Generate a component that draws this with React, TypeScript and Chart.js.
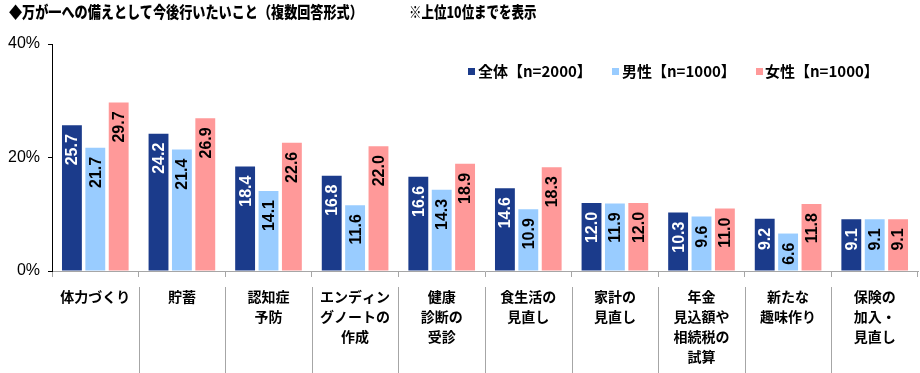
import React, { useEffect, useRef } from 'react';
import { Chart, registerables } from 'chart.js';

Chart.register(...registerables);

const categories: string[][] = [
  ['体力づくり'],
  ['貯蓄'],
  ['認知症', '予防'],
  ['エンディン', 'グノートの', '作成'],
  ['健康', '診断の', '受診'],
  ['食生活の', '見直し'],
  ['家計の', '見直し'],
  ['年金', '見込額や', '相続税の', '試算'],
  ['新たな', '趣味作り'],
  ['保険の', '加入・', '見直し'],
];
const totalValues = [25.7, 24.2, 18.4, 16.8, 16.6, 14.6, 12.0, 10.3, 9.2, 9.1];
const maleValues = [21.7, 21.4, 14.1, 11.6, 14.3, 10.9, 11.9, 9.6, 6.6, 9.1];
const femaleValues = [29.7, 26.9, 22.6, 22.0, 18.9, 18.3, 12.0, 11.0, 11.8, 9.1];
const seriesNames = ['全体【n=2000】', '男性【n=1000】', '女性【n=1000】'];
const seriesColors = ['#1B3B8B', '#99CCFF', '#FF9999'];
const labelColors = ['#FFFFFF', '#000000', '#000000'];
const yMin = 0;
const yMax = 40;
const yStep = 20;
const titleMain = '◆万が一への備えとして今後行いたいこと（複数回答形式）';
const titleNote = '※上位10位までを表示';

const CJK = '"Noto Sans CJK JP", "Noto Sans", sans-serif';
const LATIN = 'Arial, "Liberation Sans", sans-serif';

const barLabelPlugin = {
  id: 'barLabels',
  afterDatasetsDraw(chart: any) {
    const ctx = chart.ctx;
    chart.data.datasets.forEach((ds: any, di: number) => {
      const meta = chart.getDatasetMeta(di);
      meta.data.forEach((bar: any, i: number) => {
        const v = ds.data[i] as number;
        ctx.save();
        ctx.translate(bar.x, bar.y + 9);
        ctx.rotate(-Math.PI / 2);
        ctx.font = `bold 16px ${LATIN}`;
        ctx.fillStyle = labelColors[di];
        ctx.textAlign = 'right';
        ctx.textBaseline = 'middle';
        ctx.fillText(v.toFixed(1), 0, 1);
        ctx.restore();
      });
    });
  },
};

const separatorPlugin = {
  id: 'separators',
  afterDraw(chart: any) {
    const xs = chart.scales.x;
    const ctx = chart.ctx;
    ctx.save();
    ctx.strokeStyle = '#A6A6A6';
    ctx.lineWidth = 1;
    for (let i = 1; i < categories.length; i++) {
      const x = Math.round((xs.getPixelForValue(i - 1) + xs.getPixelForValue(i)) / 2) + 0.5;
      ctx.beginPath();
      ctx.moveTo(x, xs.top + 16);
      ctx.lineTo(x, chart.height);
      ctx.stroke();
    }
    ctx.restore();
  },
};

export default function App() {
  const canvasRef = useRef<HTMLCanvasElement | null>(null);

  useEffect(() => {
    document.body.style.margin = '0';
    const canvas = canvasRef.current;
    if (!canvas) return;
    const chart = new Chart(canvas, {
      type: 'bar',
      data: {
        labels: categories,
        datasets: [totalValues, maleValues, femaleValues].map((d, i) => ({
          label: seriesNames[i],
          data: d,
          backgroundColor: seriesColors[i],
          borderWidth: 0,
          categoryPercentage: 0.81,
          barPercentage: 0.85,
        })),
      },
      options: {
        responsive: false,
        animation: false,
        devicePixelRatio: 1,
        layout: { padding: { top: 44, right: 2, left: 0, bottom: 0 } },
        plugins: {
          legend: { display: false },
          title: { display: false },
          tooltip: { enabled: false },
        },
        scales: {
          x: {
            grid: {
              display: true,
              drawOnChartArea: false,
              offset: true,
              tickLength: 6,
              color: '#A6A6A6',
            },
            border: { display: true, color: '#A6A6A6' },
            ticks: {
              autoSkip: false,
              maxRotation: 0,
              minRotation: 0,
              padding: 10,
              color: '#000000',
              font: { family: CJK, size: 14, weight: 'bold', lineHeight: '20px' } as any,
            },
            afterFit(scale: any) {
              scale.height = 102;
            },
          },
          y: {
            min: yMin,
            max: yMax,
            grid: {
              display: true,
              drawOnChartArea: false,
              tickLength: 4,
              color: '#000000',
            },
            border: { display: true, color: '#000000' },
            ticks: {
              stepSize: yStep,
              padding: 8,
              color: '#000000',
              font: { family: LATIN, size: 16 },
              callback: (v: any) => `${v}%`,
            },
            afterFit(scale: any) {
              scale.width = 52;
            },
          },
        },
      },
      plugins: [barLabelPlugin, separatorPlugin],
    });
    return () => chart.destroy();
  }, []);

  const legendItems = [
    { sq: 468, tx: 478 },
    { sq: 612, tx: 622 },
    { sq: 756, tx: 765 },
  ];

  const titleStyle: React.CSSProperties = {
    position: 'absolute',
    top: 1,
    fontFamily: CJK,
    fontWeight: 900,
    fontSize: 16,
    lineHeight: '20px',
    color: '#000',
    whiteSpace: 'nowrap',
    transformOrigin: 'left top',
  };

  return (
    <div style={{ position: 'relative', width: 920, height: 373, background: '#FFFFFF', overflow: 'hidden' }}>
      <canvas ref={canvasRef} width={920} height={373} style={{ display: 'block' }} />
      <div style={{ ...titleStyle, left: 9, transform: 'scaleX(0.82)' }}>{titleMain}</div>
      <div style={{ ...titleStyle, left: 409, transform: 'scaleX(0.78)' }}>{titleNote}</div>
      {legendItems.map((it, i) => (
        <React.Fragment key={i}>
          <div
            style={{
              position: 'absolute',
              left: it.sq,
              top: 68,
              width: 7,
              height: 7,
              background: seriesColors[i],
            }}
          />
          <div
            style={{
              position: 'absolute',
              left: it.tx,
              top: 61,
              fontFamily: CJK,
              fontWeight: 'bold',
              fontSize: 15,
              lineHeight: '20px',
              color: '#000',
              whiteSpace: 'nowrap',
            }}
          >
            {seriesNames[i]}
          </div>
        </React.Fragment>
      ))}
    </div>
  );
}
